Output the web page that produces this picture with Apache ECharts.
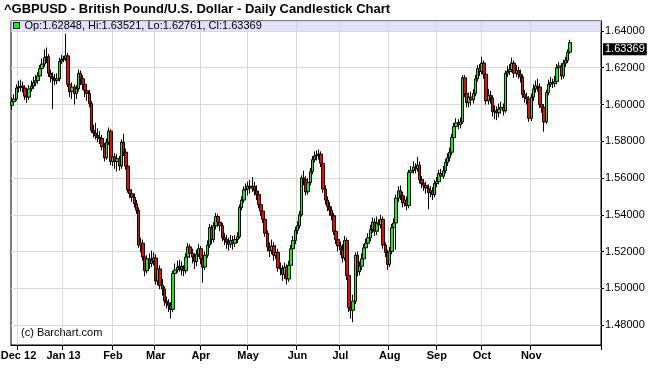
<!DOCTYPE html>
<html><head><meta charset="utf-8">
<script src="https://cdn.jsdelivr.net/npm/echarts@6/dist/echarts.min.js"></script>
<style>html,body{margin:0;padding:0;background:#fff}#c{width:650px;height:386px}</style>
</head><body><div id="c"></div>
<script>
const TITLE = '^GBPUSD - British Pound/U.S. Dollar - Daily Candlestick Chart';
const CREDIT = '(c) Barchart.com';
const FIRST_DAY = '2012-11-28';
const SLOT_COUNT = 275;
const MONTH_LABELS = ['Dec 12','Jan 13','Feb','Mar','Apr','May','Jun','Jul','Aug','Sep','Oct','Nov'];
const BAND_FROM = 1.64;
const Y_MIN = 1.469116, Y_MAX = 1.645442;

// one line per month: Nov 12 (3), Dec..Oct, Nov 13 (19)
const OPEN = [
1.5995,1.6015,1.6030,
1.6090,1.6095,1.6100,1.6090,1.6045,1.6040,1.6085,1.6100,1.6120,1.6130,1.6155,1.6195,1.6220,1.6255,1.6260,1.6170,1.6150,1.6140,1.6130,1.6140,1.6235,
1.6245,1.6250,1.6265,1.6110,1.6070,1.6095,1.6060,1.6085,1.6170,1.6140,1.6110,1.6075,1.6060,1.6005,1.5860,1.5845,1.5830,1.5820,1.5815,1.5770,1.5710,1.5795,1.5855,
1.5690,1.5715,1.5690,1.5705,1.5665,1.5795,1.5740,1.5665,1.5535,1.5515,1.5495,1.5460,1.5425,1.5235,1.5245,1.5170,1.5095,1.5160,1.5135,1.5150,
1.5165,1.5040,1.5105,1.5015,1.4995,1.4930,1.4920,1.4905,1.4885,1.5080,1.5100,1.5115,1.5120,1.5100,1.5095,1.5170,1.5225,1.5190,1.5170,1.5145,1.5185,
1.5215,1.5160,1.5115,1.5180,1.5235,1.5330,1.5265,1.5340,1.5390,1.5360,1.5340,1.5275,1.5265,1.5250,1.5240,1.5260,1.5245,1.5265,1.5280,1.5440,1.5480,1.5535,
1.5540,1.5555,1.5545,1.5555,1.5530,1.5510,1.5455,1.5420,1.5375,1.5300,1.5225,1.5205,1.5230,1.5180,1.5195,1.5110,1.5105,1.5075,1.5115,1.5050,1.5125,1.5215,1.5260,
1.5315,1.5340,1.5400,1.5600,1.5590,1.5525,1.5575,1.5635,1.5700,1.5720,1.5725,1.5730,1.5680,1.5540,1.5480,1.5445,1.5425,1.5395,1.5310,1.5265,
1.5230,1.5210,1.5165,1.5260,1.5070,1.4895,1.4880,1.4930,1.5180,1.5090,1.5120,1.5160,1.5220,1.5245,1.5275,1.5320,1.5360,1.5310,1.5355,1.5345,1.5375,1.5235,1.5195,
1.5130,1.5200,1.5330,1.5355,1.5490,1.5530,1.5505,1.5465,1.5480,1.5450,1.5630,1.5640,1.5660,1.5650,1.5670,1.5590,1.5570,1.5560,1.5545,1.5520,1.5530,1.5510,
1.5570,1.5580,1.5625,1.5610,1.5640,1.5685,1.5710,1.5740,1.5820,1.5880,1.5900,1.5890,1.5905,1.6145,1.6060,1.6010,1.6040,1.6025,1.6060,1.6140,1.6195,
1.6180,1.6225,1.6165,1.6020,1.6050,1.6035,1.5960,1.5965,1.5955,1.5975,1.5985,1.5965,1.6170,1.6180,1.6190,1.6225,1.6170,1.6185,1.6165,1.6150,1.6055,1.6040,1.6030,
1.5925,1.6040,1.6085,1.6100,1.6095,1.6000,1.5985,1.5905,1.6065,1.6110,1.6120,1.6115,1.6125,1.6200,1.6210,1.6155,1.6225,1.6240,1.62848
];
const CLOSE = [
1.6015,1.6030,1.6090,
1.6095,1.6100,1.6090,1.6045,1.6040,1.6085,1.6100,1.6120,1.6130,1.6155,1.6195,1.6220,1.6255,1.6260,1.6170,1.6150,1.6140,1.6130,1.6140,1.6235,1.6245,
1.6250,1.6265,1.6110,1.6070,1.6095,1.6060,1.6085,1.6170,1.6140,1.6110,1.6075,1.6060,1.6005,1.5860,1.5845,1.5830,1.5820,1.5815,1.5770,1.5710,1.5795,1.5855,1.5690,
1.5715,1.5690,1.5705,1.5665,1.5795,1.5740,1.5665,1.5535,1.5515,1.5495,1.5460,1.5425,1.5235,1.5245,1.5170,1.5095,1.5160,1.5135,1.5150,1.5165,
1.5040,1.5105,1.5015,1.4995,1.4930,1.4920,1.4905,1.4885,1.5080,1.5100,1.5115,1.5120,1.5100,1.5095,1.5170,1.5225,1.5190,1.5170,1.5145,1.5185,1.5215,
1.5160,1.5115,1.5180,1.5235,1.5330,1.5265,1.5340,1.5390,1.5360,1.5340,1.5275,1.5265,1.5250,1.5240,1.5260,1.5245,1.5265,1.5280,1.5440,1.5480,1.5535,1.5540,
1.5555,1.5545,1.5555,1.5530,1.5510,1.5455,1.5420,1.5375,1.5300,1.5225,1.5205,1.5230,1.5180,1.5195,1.5110,1.5105,1.5075,1.5115,1.5050,1.5125,1.5215,1.5260,1.5315,
1.5340,1.5400,1.5600,1.5590,1.5525,1.5575,1.5635,1.5700,1.5720,1.5725,1.5730,1.5680,1.5540,1.5480,1.5445,1.5425,1.5395,1.5310,1.5265,1.5230,
1.5210,1.5165,1.5260,1.5070,1.4895,1.4880,1.4930,1.5180,1.5090,1.5120,1.5160,1.5220,1.5245,1.5275,1.5320,1.5360,1.5310,1.5355,1.5345,1.5375,1.5235,1.5195,1.5130,
1.5200,1.5330,1.5355,1.5490,1.5530,1.5505,1.5465,1.5480,1.5450,1.5630,1.5640,1.5660,1.5650,1.5670,1.5590,1.5570,1.5560,1.5545,1.5520,1.5530,1.5510,1.5570,
1.5580,1.5625,1.5610,1.5640,1.5685,1.5710,1.5740,1.5820,1.5880,1.5900,1.5890,1.5905,1.6145,1.6060,1.6010,1.6040,1.6025,1.6060,1.6140,1.6195,1.6180,
1.6225,1.6165,1.6020,1.6050,1.6035,1.5960,1.5965,1.5955,1.5975,1.5985,1.5965,1.6170,1.6180,1.6190,1.6225,1.6170,1.6185,1.6165,1.6150,1.6055,1.6040,1.6030,1.5925,
1.6040,1.6085,1.6100,1.6095,1.6000,1.5985,1.5905,1.6065,1.6110,1.6120,1.6115,1.6125,1.6200,1.6210,1.6155,1.6225,1.6240,1.62848,1.63369
];
const HIGH = [
1.6040,1.6055,1.6110,
1.6130,1.6135,1.6125,1.6105,1.6070,1.6105,1.6130,1.6150,1.6160,1.6175,1.6215,1.6250,1.6300,1.6310,1.6275,1.6190,1.6175,1.6165,1.6170,1.6255,1.6270,
1.6265,1.6385,1.6280,1.6130,1.6120,1.6110,1.6105,1.6190,1.6185,1.6160,1.6125,1.6100,1.6080,1.6020,1.5890,1.5900,1.5870,1.5855,1.5835,1.5790,1.5815,1.5875,1.5865,
1.5745,1.5735,1.5730,1.5720,1.5810,1.5840,1.5760,1.5680,1.5560,1.5540,1.5515,1.5480,1.5440,1.5275,1.5265,1.5180,1.5180,1.5190,1.5205,1.5195,
1.5185,1.5130,1.5125,1.5050,1.5010,1.4955,1.4940,1.4925,1.5095,1.5135,1.5150,1.5155,1.5145,1.5125,1.5190,1.5245,1.5240,1.5215,1.5190,1.5210,1.5240,
1.5230,1.5175,1.5200,1.5260,1.5350,1.5345,1.5360,1.5410,1.5405,1.5380,1.5355,1.5300,1.5290,1.5275,1.5290,1.5285,1.5290,1.5305,1.5455,1.5500,1.5555,1.5570,
1.5580,1.5590,1.5605,1.5580,1.5560,1.5530,1.5475,1.5440,1.5390,1.5315,1.5250,1.5265,1.5250,1.5235,1.5215,1.5140,1.5125,1.5140,1.5130,1.5150,1.5235,1.5285,1.5335,
1.5365,1.5420,1.5615,1.5640,1.5610,1.5600,1.5655,1.5720,1.5745,1.5750,1.5755,1.5745,1.5695,1.5560,1.5500,1.5470,1.5445,1.5410,1.5330,1.5285,
1.5255,1.5240,1.5285,1.5275,1.5085,1.4925,1.4965,1.5195,1.5200,1.5145,1.5190,1.5240,1.5270,1.5300,1.5345,1.5385,1.5380,1.5390,1.5375,1.5400,1.5390,1.5250,1.5210,
1.5225,1.5350,1.5380,1.5510,1.5555,1.5560,1.5525,1.5505,1.5500,1.5645,1.5665,1.5690,1.5680,1.5715,1.5690,1.5610,1.5595,1.5580,1.5565,1.5555,1.5550,1.5590,
1.5605,1.5645,1.5650,1.5665,1.5705,1.5735,1.5765,1.5840,1.5900,1.5925,1.5920,1.5930,1.6160,1.6160,1.6080,1.6065,1.6070,1.6085,1.6160,1.6215,1.6220,
1.6260,1.6240,1.6180,1.6085,1.6075,1.6050,1.5995,1.5990,1.6005,1.6015,1.6005,1.6185,1.6210,1.6220,1.6255,1.6240,1.6215,1.6205,1.6190,1.6165,1.6080,1.6065,1.6045,
1.6060,1.6110,1.6130,1.6140,1.6115,1.6020,1.6000,1.6080,1.6135,1.6150,1.6140,1.6155,1.6220,1.6230,1.6225,1.6245,1.6260,1.6300,1.63521
];
const LOW = [
1.5970,1.6000,1.6020,
1.6065,1.6070,1.6065,1.6025,1.6010,1.6025,1.6070,1.6085,1.6100,1.6110,1.6140,1.6180,1.6205,1.6225,1.6150,1.6120,1.5975,1.6105,1.6110,1.6125,1.6220,
1.6230,1.6235,1.6095,1.6040,1.6030,1.6000,1.6030,1.6070,1.6105,1.6080,1.6040,1.6020,1.5985,1.5845,1.5820,1.5810,1.5795,1.5785,1.5750,1.5690,1.5700,1.5780,1.5670,
1.5665,1.5650,1.5635,1.5640,1.5650,1.5720,1.5645,1.5520,1.5490,1.5470,1.5440,1.5405,1.5220,1.5195,1.5150,1.5065,1.5080,1.5105,1.5115,1.5125,
1.5020,1.5015,1.4995,1.4960,1.4905,1.4890,1.4870,1.4835,1.4870,1.5055,1.5085,1.5090,1.5070,1.5065,1.5080,1.5155,1.5165,1.5135,1.5105,1.5120,1.5170,
1.5130,1.5030,1.5100,1.5165,1.5220,1.5240,1.5250,1.5320,1.5335,1.5310,1.5255,1.5235,1.5215,1.5205,1.5220,1.5210,1.5225,1.5245,1.5270,1.5425,1.5465,1.5515,
1.5505,1.5515,1.5525,1.5505,1.5480,1.5435,1.5395,1.5355,1.5280,1.5200,1.5170,1.5185,1.5150,1.5160,1.5090,1.5070,1.5040,1.5050,1.5020,1.5035,1.5110,1.5195,1.5240,
1.5295,1.5325,1.5390,1.5560,1.5505,1.5510,1.5560,1.5620,1.5685,1.5695,1.5700,1.5660,1.5520,1.5455,1.5420,1.5395,1.5370,1.5290,1.5240,1.5200,
1.5180,1.5140,1.5150,1.5045,1.4870,1.4835,1.4815,1.4915,1.5065,1.5070,1.5100,1.5140,1.5200,1.5225,1.5255,1.5300,1.5285,1.5290,1.5320,1.5325,1.5215,1.5170,1.5100,
1.5115,1.5185,1.5310,1.5210,1.5470,1.5480,1.5440,1.5445,1.5425,1.5435,1.5610,1.5625,1.5625,1.5635,1.5570,1.5545,1.5530,1.5515,1.5430,1.5495,1.5480,1.5495,
1.5550,1.5565,1.5585,1.5595,1.5625,1.5665,1.5690,1.5725,1.5805,1.5860,1.5865,1.5870,1.5895,1.6040,1.5985,1.5985,1.5995,1.6005,1.6045,1.6125,1.6155,
1.6165,1.6140,1.6000,1.6000,1.6005,1.5935,1.5920,1.5915,1.5930,1.5950,1.5940,1.5955,1.6150,1.6160,1.6175,1.6145,1.6150,1.6140,1.6120,1.6035,1.6010,1.6000,1.5905,
1.5910,1.6020,1.6065,1.6070,1.5980,1.5955,1.5852,1.5895,1.6050,1.6095,1.6090,1.6095,1.6110,1.6180,1.6135,1.6140,1.6205,1.6225,1.62761
];

const FONT = '"Liberation Sans", Arial, Helvetica, sans-serif';

// weekday categories
const categories = [];
{
  const d = new Date(FIRST_DAY + 'T00:00:00Z');
  while (categories.length < SLOT_COUNT) {
    const wd = d.getUTCDay();
    if (wd !== 0 && wd !== 6) categories.push(d.toISOString().slice(0, 10));
    d.setUTCDate(d.getUTCDate() + 1);
  }
}
const monthStarts = [];
for (let i = 1; i < categories.length; i++) {
  if (categories[i].slice(5, 7) !== categories[i - 1].slice(5, 7) && monthStarts.length < MONTH_LABELS.length) monthStarts.push(i);
}
const isMonthStart = (i) => monthStarts.indexOf(i) >= 0;

const candles = OPEN.map((o, i) => [o, CLOSE[i], LOW[i], HIGH[i]]);
const n = CLOSE.length - 1;
const LEGEND = 'Op:' + OPEN[n].toFixed(5) + ', Hi:' + HIGH[n].toFixed(5) + ', Lo:' + LOW[n].toFixed(5) + ', Cl:' + CLOSE[n].toFixed(5);

const chart = echarts.init(document.getElementById('c'), null, {renderer: 'canvas'});
chart.setOption({
  animation: false,
  backgroundColor: '#fff',
  textStyle: {fontFamily: FONT},
  title: {text: TITLE, left: 4, top: 3, padding: 0,
    textStyle: {fontSize: 13, fontWeight: 'bold', color: '#000', fontFamily: FONT}},
  legend: {left: 13, top: 20, padding: 0, itemWidth: 6, itemHeight: 6, selectedMode: false,
    textStyle: {fontSize: 11, color: '#000', fontFamily: FONT},
    data: [{name: LEGEND, icon: 'rect', itemStyle: {color: '#00ff00', borderColor: '#000', borderWidth: 1}}]},
  grid: {left: 11, right: 49, top: 21, bottom: 41, show: true, borderColor: '#000', borderWidth: 1,
    backgroundColor: '#fff', containLabel: false, outerBoundsMode: 'none'},
  xAxis: {type: 'category', data: categories, boundaryGap: true,
    axisLine: {show: true, lineStyle: {color: '#000', width: 1}},
    axisTick: {show: true, interval: isMonthStart, length: 5, lineStyle: {color: '#000'}},
    axisLabel: {interval: isMonthStart, formatter: (v, i) => MONTH_LABELS[monthStarts.indexOf(i)] || '',
      fontSize: 11, fontWeight: 'bold', color: '#000', margin: 5, fontFamily: FONT},
    splitLine: {show: true, interval: isMonthStart, lineStyle: {color: '#d9d9d9', width: 1}}},
  yAxis: {type: 'value', position: 'right', min: Y_MIN, max: Y_MAX, splitNumber: 8, scale: true,
    axisLine: {show: true, lineStyle: {color: '#000', width: 1}},
    axisTick: {show: true, length: 3, lineStyle: {color: '#000'}},
    axisLabel: {formatter: v => v.toFixed(5), fontSize: 11, color: '#000', margin: 4,
      showMinLabel: false, showMaxLabel: false, fontFamily: FONT},
    splitLine: {show: true, lineStyle: {color: '#d9d9d9', width: 1}}},
  graphic: [{type: 'text', left: 21, top: 327, silent: true,
    style: {text: CREDIT, fontSize: 11, fill: '#000', fontFamily: FONT}}],
  series: [{
    type: 'candlestick', name: LEGEND, data: candles, barWidth: 3,
    itemStyle: {color: '#00ff00', color0: '#ff0000', borderColor: '#000', borderColor0: '#000', borderWidth: 1},
    markArea: {silent: true, itemStyle: {color: 'rgba(205,205,248,0.6)'},
      data: [[{yAxis: BAND_FROM}, {yAxis: Y_MAX}]]},
    markLine: {silent: true, symbol: ['none', 'none'],
      lineStyle: {color: 'rgba(0,0,0,0)', width: 1, type: 'solid'},
      label: {show: true, position: 'end', distance: 2, formatter: CLOSE[n].toFixed(5),
        color: '#fff', backgroundColor: '#000', padding: [1, 2, 0, 2], fontSize: 11, opacity: 1, fontFamily: FONT},
      emphasis: {disabled: true},
      data: [{yAxis: CLOSE[n]}]}
  }]
});
</script></body></html>
